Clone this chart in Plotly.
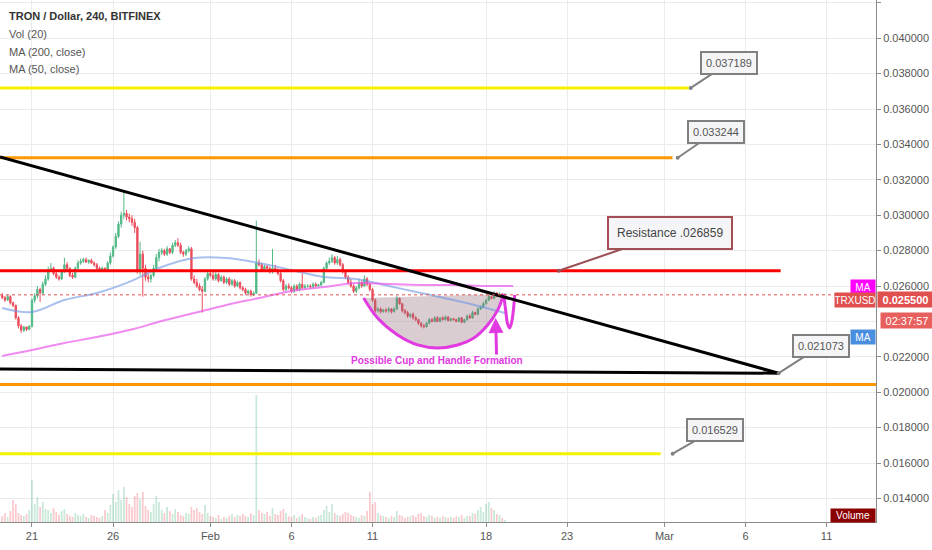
import plotly.graph_objects as go
import pandas as pd

# ---------------- data (prices in 1e-5 USD units) ----------------
START = "2018-01-19 04:00"
FIRST_OPEN = 2545
CLOSES = [
    2535, 2520, 2540, 2505, 2490,
    2420, 2375, 2350, 2368, 2355, 2372,
    2520, 2545, 2580, 2560, 2610, 2640,
    2690, 2700, 2670, 2650, 2640, 2680,
    2720, 2700, 2660, 2650, 2700, 2730,
    2740, 2750, 2735, 2745, 2730, 2720,
    2700, 2690, 2700, 2690, 2730, 2770,
    2820, 2880, 2950, 3000, 3010, 2990,
    2980, 2960, 2930, 2680, 2780, 2700,
    2650, 2640, 2660, 2700, 2760, 2790,
    2800, 2780, 2810, 2790, 2830, 2845,
    2830, 2790, 2780, 2800, 2810, 2640,
    2620, 2600, 2580, 2570, 2640, 2670,
    2660, 2640, 2665, 2630, 2650, 2620,
    2640, 2610, 2630, 2600, 2620, 2590,
    2580, 2560, 2570, 2550, 2560, 2730,
    2720, 2690, 2710, 2700, 2680, 2700,
    2690, 2670, 2630, 2580, 2600, 2590,
    2570, 2600, 2580, 2610, 2590, 2600,
    2600, 2595, 2610, 2600, 2605, 2620,
    2700, 2730, 2740, 2760, 2730, 2750,
    2720, 2680, 2650, 2620, 2600, 2570,
    2590, 2620, 2600, 2640, 2610, 2580,
    2520, 2460, 2470, 2455, 2465, 2460,
    2470, 2455, 2470, 2530, 2500, 2460,
    2450, 2430, 2440, 2420, 2410, 2390,
    2375, 2370, 2390, 2410, 2400, 2420,
    2400, 2420, 2410, 2425, 2405, 2415,
    2410, 2400, 2420, 2395, 2410, 2430,
    2420, 2450, 2440, 2470, 2480, 2500,
    2520, 2540, 2530, 2560, 2545, 2555,
    2545, 2550,
]
HIGHS = [
    2560, 2545, 2550, 2548, 2512,
    2495, 2430, 2385, 2375, 2372, 2380,
    2530, 2560, 2600, 2590, 2625, 2660,
    2710, 2730, 2710, 2685, 2660, 2690,
    2760, 2735, 2705, 2675, 2710, 2745,
    2755, 2760, 2760, 2750, 2755, 2740,
    2730, 2710, 2710, 2705, 2740, 2790,
    2830, 2900, 2965, 3020, 3130, 3030,
    3010, 3000, 2980, 2940, 2850, 2800,
    2720, 2670, 2670, 2720, 2780, 2810,
    2815, 2810, 2825, 2815, 2845, 2860,
    2870, 2845, 2800, 2810, 2825, 2820,
    2660, 2640, 2615, 2600, 2650, 2690,
    2690, 2680, 2680, 2675, 2660, 2660,
    2650, 2650, 2640, 2640, 2630, 2625,
    2600, 2590, 2580, 2580, 2570, 2970,
    2750, 2730, 2720, 2720, 2710, 2810,
    2720, 2700, 2680, 2640, 2610, 2615,
    2600, 2610, 2610, 2620, 2670, 2610,
    2610, 2610, 2620, 2620, 2612, 2630,
    2710, 2740, 2760, 2780, 2770, 2770,
    2760, 2730, 2690, 2660, 2640, 2610,
    2600, 2640, 2630, 2660, 2650, 2620,
    2590, 2530, 2480, 2480, 2470, 2475,
    2480, 2475, 2480, 2545, 2535, 2505,
    2470, 2460, 2445, 2450, 2430, 2415,
    2395, 2385, 2395, 2420, 2420, 2430,
    2430, 2425, 2430, 2435, 2430, 2420,
    2420, 2415, 2425, 2425, 2415, 2440,
    2440, 2460, 2455, 2480, 2490, 2510,
    2525, 2550, 2545, 2570, 2565, 2565,
    2560, 2560,
]
LOWS = [
    2525, 2510, 2515, 2495, 2480,
    2410, 2360, 2335, 2340, 2345, 2350,
    2365, 2505, 2530, 2510, 2550, 2600,
    2630, 2680, 2660, 2640, 2630, 2635,
    2675, 2690, 2650, 2640, 2645, 2695,
    2720, 2730, 2730, 2725, 2725, 2710,
    2690, 2680, 2680, 2680, 2685, 2720,
    2760, 2810, 2870, 2930, 2980, 2970,
    2960, 2940, 2900, 2670, 2660, 2540,
    2630, 2620, 2620, 2650, 2690, 2740,
    2775, 2770, 2770, 2780, 2780, 2820,
    2820, 2780, 2765, 2770, 2790, 2630,
    2610, 2590, 2570, 2450, 2565, 2630,
    2650, 2630, 2630, 2620, 2625, 2610,
    2610, 2600, 2600, 2590, 2595, 2580,
    2570, 2550, 2550, 2540, 2545, 2555,
    2710, 2680, 2680, 2690, 2670, 2670,
    2680, 2660, 2620, 2570, 2570, 2580,
    2560, 2560, 2570, 2570, 2580, 2585,
    2590, 2585, 2590, 2595, 2595, 2600,
    2615, 2690, 2720, 2730, 2720, 2720,
    2710, 2670, 2640, 2610, 2590, 2560,
    2560, 2580, 2590, 2595, 2600, 2570,
    2510, 2450, 2450, 2445, 2450, 2450,
    2450, 2445, 2450, 2465, 2495, 2450,
    2440, 2420, 2420, 2410, 2400, 2380,
    2365, 2360, 2365, 2385, 2395, 2395,
    2395, 2395, 2405, 2405, 2400, 2400,
    2405, 2395, 2395, 2390, 2390, 2405,
    2415, 2415, 2435, 2435, 2465, 2475,
    2495, 2515, 2525, 2525, 2540, 2540,
    2535, 2540,
]
VOLUMES = [  # millions
    60, 90, 50, 110, 220,
    180, 90, 70, 60, 80, 120,
    420, 180, 250, 150, 200, 130,
    120, 90, 140, 100, 70, 110,
    130, 80, 60, 50, 90, 70,
    60, 80, 50, 40, 70, 60,
    50, 40, 60, 120, 90, 170,
    280, 200, 320, 220, 350, 250,
    180, 150, 260, 290, 230, 300,
    160, 120, 100, 180, 260, 200,
    120, 90, 150, 110, 80, 130,
    100, 70, 60, 90, 80, 150,
    120, 140, 100, 80, 170, 90,
    60, 50, 40, 70, 30, 50,
    40, 60, 80, 50, 70, 60,
    80, 60, 50, 90, 70, 1270,
    120, 90, 80, 100, 60, 140,
    80, 70, 110, 130, 90, 60,
    50, 70, 40, 60, 80, 50,
    40, 30, 50, 40, 60, 70,
    120, 160, 100, 180, 90, 70,
    60, 80, 100, 90, 70, 60,
    50, 40, 70, 60, 110, 300,
    180, 200, 90, 70, 60, 50,
    40, 60, 50, 110, 70, 60,
    40, 50, 60, 70, 50, 80,
    90, 60, 50, 70, 60, 40,
    50, 40, 60, 50, 40, 50,
    40, 60, 50, 70, 40, 60,
    60, 90, 80, 120, 150, 100,
    180, 200, 140, 120, 80, 70,
    40, 20,
]
PRICE_UNIT = 1e-5

MA_T = ["2018-01-19 04:00", "2018-01-21", "2018-01-23", "2018-01-25", "2018-01-27",
        "2018-01-29", "2018-01-31", "2018-02-02", "2018-02-04", "2018-02-06",
        "2018-02-08", "2018-02-10", "2018-02-12", "2018-02-14", "2018-02-16",
        "2018-02-18", "2018-02-19 04:00"]
MA50 = [0.02476, 0.02453, 0.02521, 0.02560, 0.02623, 0.02707, 0.02758, 0.02758,
        0.02730, 0.02690, 0.02651, 0.02640, 0.02600, 0.02560, 0.02521, 0.02476, 0.02447]
MA200_T = MA_T[:-1] + ["2018-02-19 16:00"]
MA200 = [0.02205, 0.02238, 0.02278, 0.02312, 0.02351, 0.02402, 0.02447, 0.02493,
         0.02532, 0.02572, 0.02594, 0.02617, 0.02611, 0.02606, 0.02606, 0.02600, 0.02600]

LAST_PRICE = 0.025500

LEVELS = [0.037189, 0.033244, 0.026859, 0.020435, 0.016529]
LEVEL_START = "2018-01-19 00:40"
LEVEL_END = ["2018-03-02 12:00", "2018-03-01 12:00", "2018-03-08 04:00",
             "2018-03-14 01:10", "2018-02-28 18:30"]
LEVEL_COLORS = ["#f5f200", "#ff9800", "#ff0000", "#ff9800", "#f5f200"]

TREND_T = ["2018-01-19 00:40", "2018-03-08 01:10"]
UPPER_TREND = [0.03329, 0.021073]
LOWER_TREND = [0.02131, 0.021073]

CALLOUT_TEXT = ["0.037189", "0.033244", "Resistance .026859", "0.021073", "0.016529"]
CALLOUT_T = ["2018-03-02 15:00", "2018-03-01 19:40", "2018-02-22 11:30",
             "2018-03-08 01:10", "2018-03-01 12:15"]
CALLOUT_P = [0.037189, 0.033244, 0.026859, 0.021073, 0.016529]

CUP_T = ["2018-02-10 10:50", "2018-02-11 07:30", "2018-02-12 13:10", "2018-02-13 18:45",
         "2018-02-15 00:25", "2018-02-16 06:00", "2018-02-17 05:45", "2018-02-18 02:25",
         "2018-02-18 17:15", "2018-02-19 02:10"]
CUP_P = [0.02532, 0.02419, 0.02323, 0.02267, 0.02250, 0.02267, 0.02306, 0.02380,
         0.02464, 0.02555]
HANDLE_T = ["2018-02-19 02:10", "2018-02-19 05:00", "2018-02-19 08:00", "2018-02-19 11:00",
            "2018-02-19 14:00", "2018-02-19 16:50", "2018-02-19 18:20"]
HANDLE_P = [0.02555, 0.02464, 0.02385, 0.02363, 0.02397, 0.02476, 0.02549]

X_TICKS = ["2018-01-21", "2018-01-26", "2018-02-01", "2018-02-06", "2018-02-11",
           "2018-02-18", "2018-02-23", "2018-03-01", "2018-03-06", "2018-03-11"]
X_TICK_TEXT = ["21", "26", "Feb", "6", "11", "18", "23", "Mar", "6", "11"]
# 0.024000 label is hidden behind the countdown label in the reference (grid kept)
Y_TICKS = [0.014, 0.016, 0.018, 0.020, 0.022, 0.026, 0.028, 0.030, 0.032, 0.034,
           0.036, 0.038, 0.040, 0.042]
HIDDEN_GRID = 0.024

# ---------------- build ----------------
times = pd.date_range(START, periods=len(CLOSES), freq="4h")
closes = [c * PRICE_UNIT for c in CLOSES]
opens = [FIRST_OPEN * PRICE_UNIT] + closes[:-1]
highs = [h * PRICE_UNIT for h in HIGHS]
lows = [l * PRICE_UNIT for l in LOWS]

UP = "#53b987"
DOWN = "#eb4d5c"
MAGENTA = "#e03ae0"
FONT = "Liberation Sans"
GRID = "#ebebee"

vol_colors = ["rgba(83,185,135,0.32)" if c >= o else "rgba(235,77,92,0.30)"
              for o, c in zip(opens, closes)]

fig = go.Figure()

fig.add_trace(go.Bar(x=times, y=VOLUMES, marker=dict(color=vol_colors, line=dict(width=0)),
                     yaxis="y2", hoverinfo="skip"))

fig.add_trace(go.Scatter(x=CUP_T, y=CUP_P, fill="toself", mode="none",
                         fillcolor="rgba(140,100,115,0.32)", line_shape="spline",
                         hoverinfo="skip"))

fig.add_trace(go.Scatter(x=MA_T, y=MA50, mode="lines", line_shape="spline",
                         line=dict(color="rgba(110,150,225,0.6)", width=2), hoverinfo="skip"))
fig.add_trace(go.Scatter(x=MA200_T, y=MA200, mode="lines", line_shape="spline",
                         line=dict(color="rgba(235,90,235,0.7)", width=2), hoverinfo="skip"))

fig.add_trace(go.Candlestick(
    x=times, open=opens, high=highs, low=lows, close=closes,
    increasing=dict(line=dict(color=UP, width=1), fillcolor=UP),
    decreasing=dict(line=dict(color=DOWN, width=1), fillcolor=DOWN),
    whiskerwidth=0, hoverinfo="skip"))

fig.add_trace(go.Scatter(x=CUP_T, y=CUP_P, mode="lines", line_shape="spline",
                         line=dict(color=MAGENTA, width=3), hoverinfo="skip"))
fig.add_trace(go.Scatter(x=HANDLE_T, y=HANDLE_P, mode="lines", line_shape="spline",
                         line=dict(color=MAGENTA, width=3), hoverinfo="skip"))

shapes = [dict(type="line", xref="paper", yref="y", x0=0, x1=1, y0=HIDDEN_GRID,
               y1=HIDDEN_GRID, layer="below", line=dict(color=GRID, width=1))]
for lvl, end, col in zip(LEVELS, LEVEL_END, LEVEL_COLORS):
    shapes.append(dict(type="line", xref="x", yref="y", x0=LEVEL_START, x1=end,
                       y0=lvl, y1=lvl, line=dict(color=col, width=3)))
shapes.append(dict(type="line", xref="x", yref="y", x0=TREND_T[0], x1=TREND_T[1],
                   y0=UPPER_TREND[0], y1=UPPER_TREND[1], line=dict(color="#000", width=3)))
shapes.append(dict(type="line", xref="x", yref="y", x0=TREND_T[0], x1=TREND_T[1],
                   y0=LOWER_TREND[0], y1=LOWER_TREND[1], line=dict(color="#000", width=3)))
shapes.append(dict(type="line", xref="paper", yref="y", x0=0, x1=1,
                   y0=LAST_PRICE, y1=LAST_PRICE, line=dict(color="#e0504f", width=1, dash="dot")))

PW, PH = 876.0, 522.0


def px(xp, yp):
    return xp / PW, 1 - yp / PH


annotations = []
# legend text top-left
for i, (txt, bold) in enumerate([("TRON / Dollar, 240, BITFINEX", True), ("Vol (20)", False),
                                 ("MA (200, close)", False), ("MA (50, close)", False)]):
    xx, yy = px(7, [16, 34, 52, 69][i])
    annotations.append(dict(xref="paper", yref="paper", x=xx, y=yy, xanchor="left",
                            yanchor="middle", showarrow=False,
                            text=f"<b>{txt}</b>" if bold else txt,
                            font=dict(size=11, color="#333" if bold else "#555", family=FONT)))

# callouts
offsets = [(38, -25), (38, -26), (111, -38), (42, -27), (42, -24)]
for txt, t, p, (ax, ay) in zip(CALLOUT_TEXT, CALLOUT_T, CALLOUT_P, offsets):
    res = txt.startswith("Resistance")
    annotations.append(dict(
        xref="x", yref="y", x=t, y=p, ax=ax, ay=ay, text=txt, showarrow=True,
        arrowhead=6, arrowsize=0.5, arrowwidth=2,
        arrowcolor="#9a4f55" if res else "#808080",
        bgcolor="#f5f5f7", bordercolor="#a34e55" if res else "#808080", borderwidth=2,
        borderpad=8 if res else 4,
        font=dict(size=12 if res else 11, color="#444" if res else "#555", family=FONT)))

# cup label + arrow
annotations.append(dict(xref="x", yref="y", x="2018-02-15 00:00", y=0.021819,
                        text="<b>Possible Cup and Handle Formation</b>", showarrow=False,
                        font=dict(size=10, color=MAGENTA, family=FONT)))
annotations.append(dict(xref="x", yref="y", x="2018-02-18 14:10", y=0.02419, ax=1, ay=38,
                        text="", showarrow=True, arrowhead=2, arrowsize=1, arrowwidth=3,
                        arrowcolor=MAGENTA))


# right-axis label boxes
def box(xp, yp, text, bg, w, h, anchor, bold=False, size=10):
    xx, yy = px(xp, yp)
    return dict(xref="paper", yref="paper", x=xx, y=yy, xanchor=anchor, yanchor="middle",
                showarrow=False, text=f"<b>{text}</b>" if bold else text, bgcolor=bg,
                width=w, height=h, borderpad=0, align="center",
                font=dict(size=size, color="#fff", family=FONT))


annotations += [
    box(876, 286.5, "MA", "#ff00ff", 24, 14, "right"),
    box(876, 300, "TRXUSD", "#e0504f", 40, 14, "right"),
    box(877, 299.5, "0.025500", "#e0504f", 55, 15, "left", bold=True, size=11),
    box(880, 320.5, "02:37:57", "#e8605e", 52, 15, "left", size=11),
    box(876, 337, "MA", "#4a8ee0", 24, 14, "right"),
    box(876, 515.5, "Volume", "#8b0000", 44, 13, "right"),
]

fig.update_layout(
    width=932, height=550, autosize=False,
    margin=dict(l=0, r=56, t=0, b=28, pad=0),
    paper_bgcolor="#fff", plot_bgcolor="#fff",
    showlegend=False, shapes=shapes, annotations=annotations,
    font=dict(family=FONT, size=11, color="#555"),
    bargap=0.35,
    xaxis=dict(type="date", range=["2018-01-19 00:40", "2018-03-14 01:10"],
               tickvals=X_TICKS, ticktext=X_TICK_TEXT, showgrid=True, gridcolor=GRID,
               showline=True, linecolor="#8c8c8c", ticks="outside", ticklen=4,
               tickcolor="#8c8c8c", tickfont=dict(size=11, color="#555"),
               rangeslider=dict(visible=False), zeroline=False, fixedrange=True),
    yaxis=dict(side="right", range=[0.012667, 0.042158], tickvals=Y_TICKS,
               tickformat=".6f", showgrid=True, gridcolor=GRID, showline=True,
               linecolor="#8c8c8c", ticks="outside", ticklen=4, tickcolor="#8c8c8c",
               tickfont=dict(size=11, color="#555"), zeroline=False, fixedrange=True),
    yaxis2=dict(overlaying="y", range=[0, 5220], visible=False, fixedrange=True),
)

fig.write_html("out.html", config={"displayModeBar": False},
               post_script="document.body.style.margin='0';document.body.style.overflow='hidden';")
